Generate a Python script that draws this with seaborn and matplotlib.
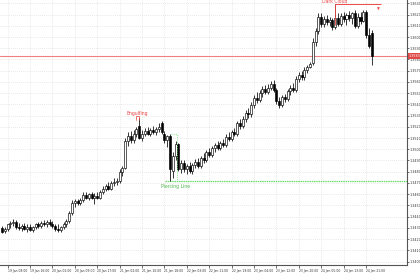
import matplotlib
matplotlib.use("Agg")
import matplotlib.pyplot as plt
import matplotlib.transforms as mtransforms
from matplotlib.ticker import FormatStrFormatter
import numpy as np
import pandas as pd
import seaborn as sns

# ---------------- data (H1 candles) ----------------
opens = [
    1.3430, 1.3427, 1.3429, 1.3433, 1.3434, 1.3435, 1.3431, 1.3430, 1.3432, 1.3429,
    1.3431, 1.3428, 1.3431, 1.3433, 1.3432, 1.3434, 1.3433, 1.3435, 1.3433, 1.3432,
    1.3429, 1.3428, 1.3431, 1.3433, 1.3436, 1.3443, 1.3452, 1.3454, 1.3452, 1.3455,
    1.3459, 1.3457, 1.3460, 1.3457, 1.3458, 1.3457, 1.3462, 1.3465, 1.3467, 1.3465,
    1.3470, 1.3471, 1.3472, 1.3480, 1.3483, 1.3507, 1.3512, 1.3508, 1.3514, 1.3521,
    1.3510, 1.3514, 1.3516, 1.3514, 1.3517, 1.3515, 1.3518, 1.3523, 1.3514, 1.3508,
    1.3512, 1.3481, 1.3494, 1.3505, 1.3482, 1.3488, 1.3482, 1.3485, 1.3481, 1.3486,
    1.3489, 1.3485, 1.3492, 1.3490, 1.3498, 1.3495, 1.3501, 1.3504, 1.3501, 1.3506,
    1.3504, 1.3511, 1.3509, 1.3515, 1.3514, 1.3523, 1.3521, 1.3527, 1.3532, 1.3531,
    1.3539, 1.3546, 1.3544, 1.3550, 1.3554, 1.3551, 1.3555, 1.3558, 1.3553, 1.3543,
    1.3539, 1.3547, 1.3545, 1.3552, 1.3555, 1.3553, 1.3563, 1.3566, 1.3564, 1.3571,
    1.3573, 1.3577, 1.3596, 1.3605, 1.3618, 1.3612, 1.3616, 1.3613, 1.3615, 1.3609,
    1.3617, 1.3612, 1.3619, 1.3616, 1.3620, 1.3617, 1.3621, 1.3610, 1.3618, 1.3614,
    1.3622, 1.3602, 1.3604,
]
highs = [
    1.3432, 1.3431, 1.3433, 1.3436, 1.3438, 1.3437, 1.3434, 1.3433, 1.3434, 1.3433,
    1.3433, 1.3432, 1.3434, 1.3435, 1.3436, 1.3437, 1.3437, 1.3438, 1.3436, 1.3433,
    1.3433, 1.3432, 1.3435, 1.3438, 1.3445, 1.3455, 1.3456, 1.3456, 1.3457, 1.3462,
    1.3462, 1.3461, 1.3462, 1.3461, 1.3462, 1.3464, 1.3467, 1.3469, 1.3471, 1.3472,
    1.3474, 1.3474, 1.3482, 1.3485, 1.3510, 1.3515, 1.3516, 1.3517, 1.3520, 1.3528,
    1.3517, 1.3519, 1.3520, 1.3519, 1.3521, 1.3520, 1.3523, 1.3525, 1.3516, 1.3513,
    1.3514, 1.3498, 1.3507, 1.3506, 1.3490, 1.3490, 1.3487, 1.3489, 1.3488, 1.3491,
    1.3492, 1.3494, 1.3497, 1.3499, 1.3501, 1.3503, 1.3506, 1.3507, 1.3507, 1.3509,
    1.3514, 1.3515, 1.3517, 1.3519, 1.3525, 1.3527, 1.3530, 1.3535, 1.3537, 1.3542,
    1.3548, 1.3551, 1.3553, 1.3556, 1.3557, 1.3558, 1.3561, 1.3562, 1.3555, 1.3547,
    1.3548, 1.3549, 1.3554, 1.3557, 1.3559, 1.3565, 1.3569, 1.3570, 1.3573, 1.3575,
    1.3578, 1.3599, 1.3608, 1.3621, 1.3621, 1.3619, 1.3620, 1.3618, 1.3617, 1.3629,
    1.3621, 1.3621, 1.3622, 1.3621, 1.3623, 1.3622, 1.3624, 1.3621, 1.3622, 1.3624,
    1.3624, 1.3608, 1.3606,
]
lows = [
    1.3425, 1.3425, 1.3427, 1.3430, 1.3432, 1.3429, 1.3428, 1.3427, 1.3428, 1.3426,
    1.3427, 1.3426, 1.3429, 1.3430, 1.3430, 1.3432, 1.3431, 1.3432, 1.3430, 1.3427,
    1.3426, 1.3426, 1.3429, 1.3431, 1.3434, 1.3441, 1.3449, 1.3450, 1.3450, 1.3453,
    1.3456, 1.3455, 1.3456, 1.3451, 1.3456, 1.3456, 1.3460, 1.3463, 1.3464, 1.3464,
    1.3467, 1.3468, 1.3470, 1.3476, 1.3482, 1.3503, 1.3506, 1.3506, 1.3511, 1.3509,
    1.3507, 1.3512, 1.3513, 1.3512, 1.3514, 1.3513, 1.3515, 1.3514, 1.3506, 1.3502,
    1.3472, 1.3474, 1.3490, 1.3481, 1.3479, 1.3480, 1.3478, 1.3479, 1.3478, 1.3483,
    1.3483, 1.3483, 1.3488, 1.3489, 1.3493, 1.3493, 1.3498, 1.3499, 1.3499, 1.3502,
    1.3502, 1.3507, 1.3507, 1.3512, 1.3512, 1.3518, 1.3519, 1.3524, 1.3528, 1.3529,
    1.3537, 1.3541, 1.3542, 1.3547, 1.3549, 1.3549, 1.3553, 1.3551, 1.3540, 1.3537,
    1.3538, 1.3542, 1.3543, 1.3548, 1.3551, 1.3551, 1.3560, 1.3562, 1.3562, 1.3568,
    1.3572, 1.3575, 1.3592, 1.3603, 1.3609, 1.3609, 1.3611, 1.3610, 1.3606, 1.3607,
    1.3610, 1.3610, 1.3613, 1.3611, 1.3614, 1.3612, 1.3608, 1.3608, 1.3612, 1.3613,
    1.3599, 1.3590, 1.3575,
]
closes = [
    1.3426, 1.3429, 1.3433, 1.3434, 1.3435, 1.3431, 1.3430, 1.3432, 1.3429, 1.3431,
    1.3428, 1.3431, 1.3433, 1.3432, 1.3434, 1.3433, 1.3435, 1.3433, 1.3432, 1.3429,
    1.3428, 1.3431, 1.3433, 1.3436, 1.3443, 1.3452, 1.3454, 1.3452, 1.3455, 1.3459,
    1.3457, 1.3460, 1.3457, 1.3458, 1.3457, 1.3462, 1.3465, 1.3467, 1.3465, 1.3470,
    1.3471, 1.3472, 1.3480, 1.3483, 1.3507, 1.3512, 1.3508, 1.3514, 1.3518, 1.3510,
    1.3514, 1.3516, 1.3514, 1.3517, 1.3515, 1.3518, 1.3520, 1.3515, 1.3508, 1.3512,
    1.3482, 1.3494, 1.3505, 1.3482, 1.3488, 1.3482, 1.3485, 1.3481, 1.3486, 1.3489,
    1.3485, 1.3492, 1.3490, 1.3498, 1.3495, 1.3501, 1.3504, 1.3501, 1.3506, 1.3504,
    1.3511, 1.3509, 1.3515, 1.3514, 1.3523, 1.3521, 1.3527, 1.3532, 1.3531, 1.3539,
    1.3546, 1.3544, 1.3550, 1.3554, 1.3551, 1.3555, 1.3558, 1.3553, 1.3543, 1.3539,
    1.3547, 1.3545, 1.3552, 1.3555, 1.3553, 1.3563, 1.3566, 1.3564, 1.3571, 1.3573,
    1.3576, 1.3596, 1.3605, 1.3618, 1.3612, 1.3616, 1.3613, 1.3615, 1.3609, 1.3617,
    1.3612, 1.3619, 1.3616, 1.3620, 1.3617, 1.3621, 1.3610, 1.3618, 1.3614, 1.3622,
    1.3602, 1.3592, 1.3583,
]

time_labels = [
    "19 Jan 08:00", "19 Jan 16:00", "20 Jan 01:00", "20 Jan 09:00", "20 Jan 17:00",
    "21 Jan 02:00", "21 Jan 10:00", "21 Jan 18:00", "22 Jan 03:00", "22 Jan 11:00",
    "22 Jan 19:00", "23 Jan 04:00", "23 Jan 12:00", "23 Jan 20:00", "24 Jan 05:00",
    "24 Jan 13:00", "24 Jan 21:00",
]
time_label_bars = [2, 10, 18, 26, 34, 42, 50, 58, 66, 74, 82, 90, 98, 106, 114, 122, 130]

price_ticks = [1.3400, 1.3410, 1.3420, 1.3430, 1.3440, 1.3450, 1.3460, 1.3470,
               1.3480, 1.3490, 1.3500, 1.3510, 1.3520, 1.3530, 1.3540, 1.3550,
               1.3560, 1.3570, 1.3580, 1.3590, 1.3600, 1.3610, 1.3620, 1.3630]

bid_price = 1.3583
pierce_level = 1.3472
engulf_bar, pierce_bar, cloud_bar = 49, 61, 119
cloud_level = 1.3629

# ---------------- style ----------------
sns.set_theme(style="white")
plt.rcParams["font.family"] = ["DejaVu Sans"]

df = pd.DataFrame({"open": opens, "high": highs, "low": lows, "close": closes})
df["bar"] = np.arange(len(df))
up = df["close"] >= df["open"]
body_lo = np.minimum(df["open"], df["close"])
body_h = np.maximum((df["close"] - df["open"]).abs(), 0.00004)

fig = plt.figure(figsize=(4.2, 2.8), dpi=100)
ax = fig.add_axes([0, 15 / 280, 407 / 420, 265 / 280])
ax.set_facecolor("white")

ax.grid(True, ls=(0, (1, 2)), color="#d4d4d4", lw=0.5, zorder=0)

ax.vlines(df["bar"], df["low"], df["high"], color="black", lw=0.55, zorder=2)
ax.bar(df["bar"][up], body_h[up], bottom=body_lo[up], width=0.72,
       color="white", edgecolor="black", linewidth=0.45, zorder=3)
ax.bar(df["bar"][~up], body_h[~up], bottom=body_lo[~up], width=0.72,
       color="black", edgecolor="black", linewidth=0.45, zorder=3)

x_right = 144.6
ax.set_xlim(-0.7, x_right)
ax.set_ylim(1.3633 - 265 * 0.0000891, 1.3633)

# bid line
ax.axhline(bid_price, color="#f08080", lw=0.8, zorder=1)
trans = mtransforms.blended_transform_factory(ax.transAxes, ax.transData)
ax.text(1.004, bid_price, f"{bid_price:.4f}", transform=trans, fontsize=2.4,
        color="white", va="center", ha="left", clip_on=False,
        bbox=dict(fc="#e04848", ec="none", pad=0.5), zorder=6)

# Engulfing
ax.plot([engulf_bar - 1.2, engulf_bar - 1.2, engulf_bar, engulf_bar],
        [1.35265, 1.35295, 1.35295, 1.35265], color="#e84040", lw=0.5, zorder=4)
ax.text(engulf_bar - 0.6, 1.3530, "Engulfing", color="#e84040", fontsize=3.3,
        ha="center", va="bottom", zorder=5)

# Piercing line
ax.hlines(pierce_level, pierce_bar - 2.8, x_right, color="#66dd66", lw=0.9,
          ls=(0, (1.2, 0.6)), zorder=1)
ax.plot([pierce_bar - 0.5, pierce_bar + 1.4, pierce_bar + 1.4],
        [1.3514, 1.3514, pierce_level], color="#66dd66", lw=0.6, ls=":", zorder=4)
ax.text(pierce_bar + 0.8, 1.3467, "Piercing Line", color="#4cb84c", fontsize=3.3,
        ha="center", va="center", zorder=5)

# Dark cloud
ax.hlines(cloud_level, cloud_bar, 135.2, color="#f04848", lw=0.7, zorder=4)
ax.vlines(cloud_bar, 1.3611, cloud_level, color="#f04848", lw=0.6, zorder=4)
ax.annotate("", xy=(134.4, 1.36215), xytext=(134.4, 1.36285),
            arrowprops=dict(arrowstyle="-|>", color="#f04848", lw=0.6,
                            mutation_scale=3, fc="white"), zorder=5)
ax.text(cloud_bar - 0.1, 1.36315, "Dark Cloud", color="#f04848", fontsize=3.3,
        ha="center", va="center", zorder=5)

# axes / ticks
ax.yaxis.tick_right()
ax.set_yticks(price_ticks)
ax.yaxis.set_major_formatter(FormatStrFormatter("%.4f"))
ax.set_xticks(time_label_bars)
ax.set_xticklabels(time_labels, ha="left")
ax.tick_params(axis="y", which="major", length=1.5, width=0.5, pad=0.5,
               labelsize=2.4, colors="#333333", right=True, left=False)
ax.tick_params(axis="x", which="major", length=2, width=0.5, pad=1,
               labelsize=2.2, colors="#333333", bottom=True)
for side in ["left", "top"]:
    ax.spines[side].set_visible(False)
for side in ["right", "bottom"]:
    ax.spines[side].set_visible(True)
    ax.spines[side].set_color("#555555")
    ax.spines[side].set_linewidth(0.8)

fig.savefig("out.png", dpi=100, facecolor="white")
